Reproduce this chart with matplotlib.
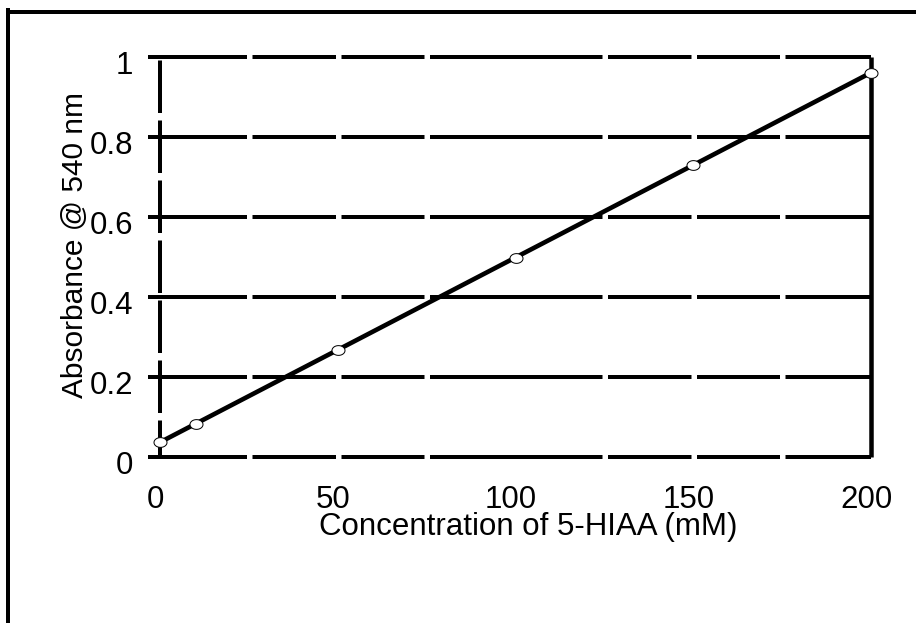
import numpy as np
import matplotlib
matplotlib.use("Agg")
import matplotlib.pyplot as plt
from matplotlib.path import Path
from matplotlib.lines import Line2D
import matplotlib.transforms as mtransforms

# Calibration data: 5-HIAA concentration vs absorbance
concentration = [0, 10, 50, 100, 150, 200]
absorbance = [0.037, 0.083, 0.268, 0.498, 0.730, 0.961]

x_ticks = [0, 50, 100, 150, 200]
x_tick_labels = ["0", "50", "100", "150", "200"]
y_ticks = [0, 0.2, 0.4, 0.6, 0.8, 1.0]
y_tick_labels = ["0", "0.2", "0.4", "0.6", "0.8", "1"]

x_label = "Concentration of 5-HIAA (mM)"
y_label = "Absorbance @ 540 nm"

plt.rcParams["font.family"] = ["Liberation Sans", "DejaVu Sans"]
plt.rcParams["lines.scale_dashes"] = False

W, H, DPI = 916, 623, 100
fig = plt.figure(figsize=(W / DPI, H / DPI), dpi=DPI)
fig.patch.set_facecolor("white")

# axes box in pixel coordinates
left_px, right_px, top_px, bottom_px = 160, 871, 57, 457
ax = fig.add_axes([left_px / W, 1 - bottom_px / H,
                   (right_px - left_px) / W, (bottom_px - top_px) / H])
ax.set_xlim(0, 200)
ax.set_ylim(0, 1)
for s in ax.spines.values():
    s.set_visible(False)
ax.patch.set_visible(False)

PX = 72.0 / DPI  # points per pixel
lw = 4 * PX

# horizontal dashed gridlines
h_dash = tuple(v * PX for v in [87, 5.5, 83.5, 5.5, 83, 5.5, 172.5, 5.5,
                                83.5, 5.5, 83, 5.5, 200, 10])
for yv in y_ticks:
    ax.plot([0, 200], [yv, yv], color="black", lw=lw, linestyle=(0, h_dash),
            dash_capstyle="butt", clip_on=False, zorder=1)

# left axis line (dashed) and right axis line (solid)
ax.plot([0, 0], [0, 1], color="black", lw=lw,
        linestyle=(16 * PX, (52.5 * PX, 7.5 * PX)),
        dash_capstyle="butt", clip_on=False, zorder=1)
ax.plot([200, 200], [0, 1], color="black", lw=4.5 * PX, solid_capstyle="butt",
        clip_on=False, zorder=1)

# fitted calibration line
slope, intercept = np.polyfit(concentration, absorbance, 1)
xf = np.array([concentration[0], concentration[-1]])
ax.plot(xf, slope * xf + intercept, color="black", lw=4.6 * PX, solid_capstyle="butt",
        clip_on=False, zorder=3)

# elliptical open markers
theta = np.linspace(0, 2 * np.pi, 60)
ellipse = Path(np.column_stack([np.cos(theta), 0.75 * np.sin(theta)]), closed=True)
ax.plot(concentration, absorbance, linestyle="none", marker=ellipse,
        markersize=13 * PX, markerfacecolor="white", markeredgecolor="black",
        markeredgewidth=1.0 * PX, clip_on=False, zorder=4)

# ticks and labels
fs_tick = 22.5
fs_y = 21.5
ax.set_xticks(x_ticks)
ax.set_xticklabels(x_tick_labels, fontsize=fs_tick)
ax.set_yticks(y_ticks)
ax.set_yticklabels(y_tick_labels, fontsize=fs_tick)
ax.tick_params(axis="x", length=0, pad=28 * PX)
ax.tick_params(axis="y", length=12 * PX, width=lw, direction="out", pad=15 * PX,
               color="black")
for t in ax.yaxis.get_majorticklines():
    t.set_clip_on(False)

dx = mtransforms.ScaledTranslation(-5 / DPI, 0, fig.dpi_scale_trans)
for lbl in ax.get_xticklabels():
    lbl.set_transform(lbl.get_transform() + dx)
dy = mtransforms.ScaledTranslation(0, -5 / DPI, fig.dpi_scale_trans)
for lbl in ax.get_yticklabels():
    lbl.set_transform(lbl.get_transform() + dy)

fig.text(528 / W, 1 - 535 / H, x_label, fontsize=fs_tick, ha="center", va="baseline")
fig.text(75 / W, 1 - 245 / H, y_label, fontsize=fs_y, ha="center", va="center",
         rotation=90)

# frame around the figure (left and top edges)
fig.add_artist(Line2D([8 / W, 8 / W], [0, 1 - 10 / H], transform=fig.transFigure,
                      color="black", lw=lw, solid_capstyle="projecting"))
fig.add_artist(Line2D([8 / W, 1], [1 - 11.5 / H, 1 - 11.5 / H], transform=fig.transFigure,
                      color="black", lw=lw, solid_capstyle="butt"))

fig.savefig("out.png", dpi=DPI, facecolor="white")
